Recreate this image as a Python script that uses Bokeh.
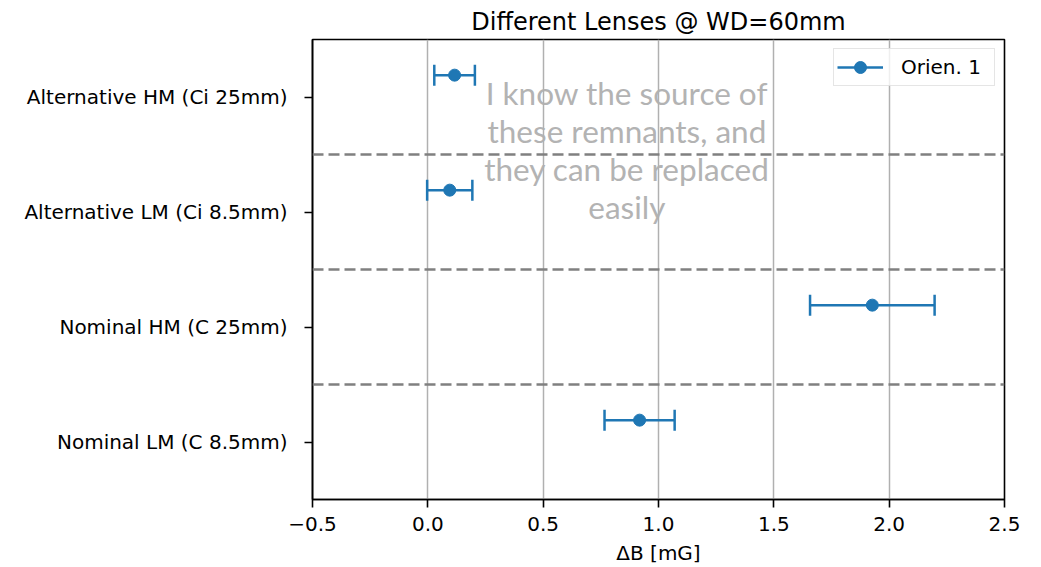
import numpy as np
from bokeh.plotting import figure
from bokeh.models import (ColumnDataSource, FixedTicker, CustomJSTickFormatter, Span,
                          Legend, LegendItem, Label)
from bokeh.embed import file_html
from bokeh.resources import INLINE

# ---- data (bottom to top) ----
categories = ["Nominal LM (C 8.5mm)", "Nominal HM (C 25mm)",
              "Alternative LM (Ci 8.5mm)", "Alternative HM (Ci 25mm)"]
delta_b = [0.918, 1.927, 0.095, 0.116]
delta_b_err = [0.152, 0.270, 0.098, 0.088]
orient_offset = 0.19
separators = [0.5, 1.5, 2.5]
x_ticks = [-0.5, 0.0, 0.5, 1.0, 1.5, 2.0, 2.5]
series_name = "Orien. 1"

FONT = "DejaVu Sans"
BLUE = "#1f77b4"

ypos = [i + orient_offset for i in range(len(categories))]
x = np.array(delta_b)
e = np.array(delta_b_err)
src = ColumnDataSource(dict(x=x, y=ypos, lo=x - e, hi=x + e))

p = figure(width=1041, height=567, x_range=(-0.5, 2.5), y_range=(-0.5, 3.5),
           output_backend="svg", toolbar_location=None,
           title="Different Lenses @ WD=60mm")
p.min_border_left = 312
p.min_border_right = 37
p.min_border_top = 39
p.min_border_bottom = 68
p.background_fill_color = "white"
p.border_fill_color = "white"
p.outline_line_color = "black"
p.outline_line_width = 1.6
p.outline_line_alpha = 1.0

p.title.text_font = FONT
p.title.text_font_size = "24px"
p.title.text_font_style = "normal"
p.title.text_color = "black"
p.title.align = "center"
p.title.standoff = 7

# axes
for ax in (p.xaxis[0], p.yaxis[0]):
    ax.axis_line_color = "black"
    ax.axis_line_width = 1.6
    ax.major_tick_line_color = "black"
    ax.major_tick_line_width = 1.6
    ax.major_tick_in = 0
    ax.major_tick_out = 8
    ax.minor_tick_line_color = None
    ax.major_label_text_font = FONT
    ax.major_label_text_font_size = "20px"
    ax.major_label_text_color = "black"
    ax.axis_label_text_font = FONT
    ax.axis_label_text_font_size = "20px"
    ax.axis_label_text_font_style = "normal"
    ax.axis_label_text_color = "black"

p.xaxis.ticker = FixedTicker(ticks=x_ticks)
p.xaxis.formatter = CustomJSTickFormatter(
    code="return (tick < 0 ? '\u2212' : '') + Math.abs(tick).toFixed(1);")
p.xaxis.major_label_standoff = 9
p.xaxis.axis_label = "\u0394B [mG]"
p.xaxis.axis_label_standoff = 7

p.yaxis.ticker = FixedTicker(ticks=list(range(len(categories))))
p.yaxis.major_label_overrides = {i: c for i, c in enumerate(categories)}
p.yaxis.major_label_standoff = 17

p.xgrid.grid_line_color = "#b0b0b0"
p.xgrid.grid_line_width = 1.5
p.ygrid.visible = False

# light grey annotation text (drawn beneath grid lines)
note = Label(x=0.863, y=2.535, text="I know the source of\nthese remnants, and\nthey can be replaced\neasily",
             text_align="center", text_baseline="middle", text_font="Lato",
             text_font_size="31.5px", text_color="#b3b3b3", text_line_height=1.0,
             level="image")
p.add_layout(note)

# separators
for s in separators:
    p.add_layout(Span(location=s, dimension="width", line_color="#808080",
                      line_width=2.5, line_dash="11 5"))

# error bars
seg = p.segment(x0="lo", y0="y", x1="hi", y1="y", source=src, line_color=BLUE, line_width=2.5)
caps_lo = p.scatter(x="lo", y="y", source=src, marker="dash", angle=np.pi / 2, size=21,
                    line_color=BLUE, line_width=2.5)
caps_hi = p.scatter(x="hi", y="y", source=src, marker="dash", angle=np.pi / 2, size=21,
                    line_color=BLUE, line_width=2.5)
dots = p.scatter(x="x", y="y", source=src, marker="circle", size=12,
                 fill_color=BLUE, line_color=BLUE, line_width=1)

legend = Legend(items=[LegendItem(label=series_name, renderers=[seg, dots])],
                location="top_right")
legend.label_text_font = FONT
legend.label_text_font_size = "20px"
legend.label_text_color = "black"
legend.glyph_width = 46
legend.glyph_height = 30
legend.padding = 3
legend.label_standoff = 18
legend.label_width = 90
legend.margin = 9
legend.border_line_color = "#cccccc"
legend.border_line_width = 1.2
legend.background_fill_alpha = 0.8
p.add_layout(legend)

open("out.html", "w").write(file_html(p, INLINE))
